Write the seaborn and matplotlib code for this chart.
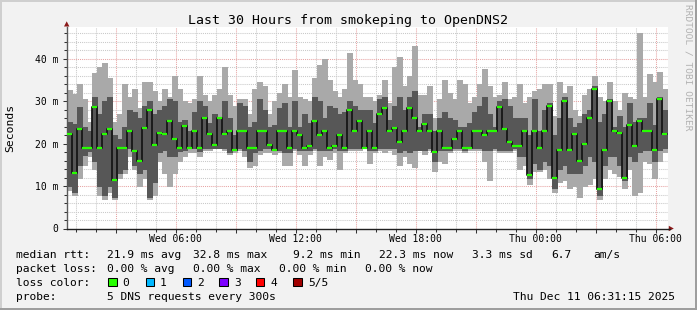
import numpy as np
import pandas as pd
import matplotlib
matplotlib.use("Agg")
import matplotlib.pyplot as plt
import seaborn as sns
from matplotlib.patches import Polygon, Rectangle
from matplotlib.lines import Line2D

# ---------------- data (ms), one value per 15-minute column ----------------
smoke_max = [
    32.6, 31.8, 34.0, 30.5, 25.0, 36.6, 38.0, 39.0, 35.5, 25.0,
    27.0, 34.0, 31.0, 33.0, 28.5, 34.5, 34.5, 32.5, 30.0, 33.0,
    31.0, 36.0, 33.0, 30.0, 29.5, 30.5, 36.0, 31.5, 30.0, 31.5,
    33.0, 38.2, 31.5, 29.0, 30.5, 30.5, 27.0, 33.0, 34.5, 33.5,
    27.0, 30.0, 32.0, 34.0, 31.0, 37.5, 31.0, 30.5, 30.0, 35.5,
    38.5, 40.0, 35.0, 32.5, 31.0, 33.0, 41.5, 35.0, 34.0, 31.0,
    31.0, 30.0, 31.5, 35.0, 29.5, 38.0, 40.5, 33.5, 36.0, 43.0,
    31.5, 31.5, 33.5, 26.0, 30.5, 35.0, 32.0, 30.5, 35.0, 34.0,
    29.5, 31.0, 34.0, 37.5, 33.5, 31.0, 31.5, 34.5, 30.5, 31.0,
    34.0, 29.5, 31.0, 32.5, 33.0, 34.0, 34.0, 26.5, 34.5, 32.0,
    33.5, 28.0, 26.5, 31.5, 33.0, 36.0, 31.0, 30.0, 34.5, 30.0,
    28.0, 32.0, 31.0, 30.5, 46.0, 31.0, 36.5, 34.5, 37.0, 33.0]

smoke_min = [
    9.0, 8.0, 12.0, 15.0, 17.0, 14.0, 8.0, 7.0, 8.5, 7.0,
    12.0, 13.0, 17.0, 14.0, 10.0, 12.0, 7.0, 8.0, 16.0, 13.0,
    10.0, 13.0, 16.0, 17.0, 18.0, 18.0, 17.0, 18.5, 18.5, 19.0,
    19.0, 18.5, 17.5, 18.0, 18.5, 17.0, 14.5, 15.0, 17.5, 18.0,
    18.0, 17.5, 18.0, 15.0, 15.0, 18.5, 17.5, 15.0, 17.5, 18.5,
    15.0, 17.0, 16.5, 18.0, 14.0, 18.0, 18.5, 18.5, 18.5, 19.0,
    15.5, 18.0, 18.5, 18.0, 18.5, 17.5, 15.0, 17.0, 15.5, 14.5,
    18.5, 17.5, 18.5, 13.5, 16.0, 15.5, 18.0, 18.5, 18.5, 18.0,
    18.5, 18.5, 18.5, 16.0, 11.5, 18.5, 18.0, 18.0, 18.0, 18.5,
    14.0, 15.0, 10.5, 13.5, 13.5, 14.0, 12.0, 8.5, 11.0, 11.5,
    9.5, 10.0, 7.5, 10.0, 10.5, 12.0, 7.0, 12.0, 14.0, 13.0,
    12.5, 9.5, 14.0, 8.0, 8.5, 16.0, 15.5, 12.0, 16.0, 18.0]

inner_max = [
    25.0, 24.6, 28.6, 24.0, 23.0, 31.0, 27.0, 30.0, 31.0, 22.0,
    21.0, 24.0, 28.0, 27.5, 26.0, 29.0, 30.0, 27.0, 28.0, 29.0,
    30.5, 30.0, 25.0, 25.5, 23.0, 27.5, 30.0, 29.0, 25.0, 27.0,
    26.0, 30.0, 26.0, 22.0, 29.5, 29.0, 24.0, 25.0, 30.5, 28.0,
    24.0, 24.5, 28.5, 29.5, 24.0, 30.0, 24.0, 27.0, 25.0, 31.0,
    30.0, 26.0, 29.0, 28.5, 27.0, 27.5, 30.0, 29.0, 28.0, 28.0,
    28.0, 25.0, 30.5, 31.0, 25.5, 29.0, 31.0, 28.0, 31.0, 32.5,
    24.0, 27.0, 27.0, 23.0, 26.0, 27.5, 26.0, 25.5, 24.0, 24.0,
    25.0, 27.5, 29.0, 31.0, 27.0, 24.0, 30.0, 30.5, 29.0, 26.0,
    26.0, 26.0, 22.0, 30.5, 23.0, 28.0, 29.5, 22.0, 26.0, 31.0,
    26.0, 24.0, 25.0, 27.0, 28.0, 33.5, 25.0, 27.0, 30.5, 24.0,
    26.5, 24.0, 29.5, 25.0, 26.0, 26.0, 29.5, 24.5, 31.0, 28.0]

inner_min = [
    10.0, 8.6, 15.0, 17.4, 18.2, 16.0, 10.0, 8.0, 10.0, 7.5,
    13.0, 14.0, 19.0, 15.0, 13.0, 14.0, 7.5, 11.0, 18.0, 18.5,
    17.0, 17.0, 18.2, 18.5, 19.0, 19.0, 18.2, 19.0, 19.0, 19.0,
    19.0, 19.0, 18.0, 18.5, 19.0, 18.5, 16.0, 18.0, 18.5, 19.0,
    19.0, 18.5, 18.5, 18.0, 18.0, 19.0, 18.5, 18.5, 18.5, 19.0,
    18.5, 18.5, 18.5, 19.0, 18.5, 18.5, 19.0, 19.0, 19.0, 19.0,
    18.5, 18.5, 19.0, 19.0, 19.0, 19.0, 18.0, 18.5, 18.0, 18.5,
    18.5, 18.5, 19.0, 16.0, 18.5, 18.5, 18.5, 19.0, 19.0, 18.5,
    19.0, 19.0, 19.0, 18.5, 18.5, 19.0, 18.5, 18.5, 18.5, 19.0,
    17.0, 17.0, 12.0, 15.5, 14.0, 16.0, 15.0, 9.5, 14.0, 15.0,
    13.0, 13.0, 13.0, 15.0, 17.0, 16.0, 8.0, 15.0, 17.0, 17.0,
    15.0, 11.5, 17.0, 16.0, 18.0, 18.5, 18.5, 16.0, 18.5, 19.0]

median_rtt = [
    22.2, 13.0, 23.4, 19.0, 19.0, 28.6, 19.0, 22.2, 23.4, 11.5,
    19.0, 19.0, 23.0, 18.2, 16.0, 23.8, 28.0, 19.8, 22.6, 22.2,
    25.4, 21.0, 19.0, 24.2, 19.0, 23.0, 19.0, 26.0, 22.2, 19.8,
    26.0, 22.4, 23.0, 18.5, 23.0, 23.0, 19.0, 19.0, 23.0, 23.0,
    19.8, 18.5, 23.0, 23.0, 19.0, 23.0, 22.0, 19.0, 19.5, 25.4,
    22.0, 23.0, 19.0, 19.5, 22.0, 19.0, 28.0, 23.0, 25.4, 19.0,
    23.0, 19.0, 27.0, 28.5, 23.0, 23.8, 20.5, 23.0, 28.5, 26.0,
    23.0, 24.6, 23.0, 18.0, 23.0, 19.0, 19.0, 21.0, 23.0, 19.0,
    19.0, 23.0, 23.0, 22.0, 23.0, 23.0, 28.6, 23.5, 20.5, 19.5,
    19.5, 23.0, 12.6, 23.0, 19.0, 23.0, 28.8, 11.8, 18.5, 30.0,
    18.5, 22.2, 16.0, 20.0, 26.0, 32.8, 9.2, 18.5, 30.0, 23.0,
    22.5, 12.0, 24.5, 19.5, 25.4, 23.0, 23.0, 18.5, 30.5, 22.3]

x_tick_hours = [6, 12, 18, 24, 30]
x_tick_labels = ['Wed 06:00', 'Wed 12:00', 'Wed 18:00', 'Thu 00:00', 'Thu 06:00']
y_tick_values = [0, 10, 20, 30, 40]
y_tick_labels = ['0', '10 m', '20 m', '30 m', '40 m']
loss_labels = ['0', '1', '2', '3', '4', '5/5']
loss_colors = ['#26ff00', '#00b8ff', '#0059ff', '#7e00ff', '#ff0000', '#a10000']

# ---------------- figure ----------------
sns.set_theme(style="white")
plt.rcParams['font.family'] = ['DejaVu Sans Mono', 'DejaVu Sans']

W, H = 697, 310
fig = plt.figure(figsize=(W / 100, H / 100), dpi=100, facecolor='#f2f2f2')


def fx(px):
    return px / W


def fy(py):
    return 1 - py / H


AX_L, AX_R, AX_T, AX_B = 66.7, 668.0, 26.7, 228.5
ax = fig.add_axes([fx(AX_L), fy(AX_B), (AX_R - AX_L) / W, (AX_B - AX_T) / H])
ax.set_facecolor('white')

T0, STEP = 0.55, 0.25
n = len(median_rtt)
left = T0 + STEP * np.arange(n)
smax, smin = np.array(smoke_max), np.array(smoke_min)
imax, imin = np.array(inner_max), np.array(inner_min)
med = np.array(median_rtt)

ax.bar(left, smax - smin, bottom=smin, width=STEP, align='edge',
       color='#a9a9a9', edgecolor='#a9a9a9', linewidth=0.6, antialiased=False, zorder=2)
ax.bar(left, imax - imin, bottom=imin, width=STEP, align='edge',
       color='#575757', edgecolor='#575757', linewidth=0.6, antialiased=False, zorder=3)

df = pd.DataFrame({'t': np.append(left, left[-1] + STEP),
                   'm': np.append(med, med[-1])})
sns.lineplot(data=df, x='t', y='m', drawstyle='steps-post', color='#161616',
             linewidth=1.3, ax=ax, zorder=4)
ax.hlines(med, left, left + STEP, color='#26ff00', linewidth=1.6, zorder=5)

ax.set_xlim(T0, T0 + (AX_R - AX_L) / 20.0)
ax.set_ylim(0, (AX_B - AX_T) / 4.24)

major_hours = [3, 6, 9, 12, 15, 18, 21, 24, 27, 30]
ax.set_xticks(major_hours)
ax.set_xticklabels([x_tick_labels[x_tick_hours.index(h)] if h in x_tick_hours else ''
                    for h in major_hours])
ax.set_xticks(np.arange(1, 31), minor=True)
ax.set_yticks(y_tick_values)
ax.set_yticklabels(y_tick_labels)
ax.set_yticks(np.arange(2, 48, 2), minor=True)

ax.grid(which='major', color='#e7a4a4', linestyle=(0, (1, 1)), linewidth=0.75, zorder=0)
ax.grid(which='minor', color='#c9c9c9', linestyle=(0, (1, 1)), linewidth=0.75, zorder=0)
ax.set_axisbelow(True)

ax.tick_params(axis='both', which='major', length=3, width=0.75, color='#333333',
               direction='out', labelsize=7, labelcolor='black')
ax.tick_params(axis='both', which='minor', length=2, width=0.75, color='#333333',
               direction='out')
ax.tick_params(axis='x', which='major', pad=1.2)
ax.tick_params(axis='y', which='major', pad=3.0)
ax.xaxis.set_tick_params(bottom=True, which='both')
ax.yaxis.set_tick_params(left=True, which='both')
ax.set_xlabel('')
ax.set_ylabel('')

for s in ['top', 'right']:
    ax.spines[s].set_visible(False)
ax.spines['left'].set_color('#5a5a5a')
ax.spines['left'].set_linewidth(1.0)
ax.spines['bottom'].set_color('#202020')
ax.spines['bottom'].set_linewidth(1.0)

# axis extension + arrows
fig.add_artist(Line2D([fx(AX_R), fx(670)], [fy(AX_B), fy(AX_B)], color='#202020', lw=1.0))
fig.add_artist(Polygon([(fx(64.0), fy(26.5)), (fx(69.4), fy(26.5)), (fx(66.7), fy(21.3))],
                       closed=True, color='#8b1a1a', lw=0))
fig.add_artist(Polygon([(fx(668.8), fy(225.8)), (fx(668.8), fy(231.2)), (fx(673.8), fy(228.5))],
                       closed=True, color='#8b1a1a', lw=0))

# title and labels
fig.text(fx(348), fy(24), 'Last 30 Hours from smokeping to OpenDNS2',
         ha='center', va='baseline', fontsize=9.5, color='black')
fig.text(fx(10), fy(128), 'Seconds', rotation=90, ha='center', va='center',
         fontsize=8.2, color='black')
fig.text(fx(688), fy(4), 'RRDTOOL / TOBI OETIKER', rotation=-90, ha='center',
         va='top', fontsize=6.8, color='#b2b2b2')

LF = 8.1
rows = [
    (257.7, [(16, 'median rtt:'), (107.3, '21.9 ms avg'), (193.3, '32.8 ms max'),
             (293.3, '9.2 ms min'), (379.3, '22.3 ms now'), (472.3, '3.3 ms sd'),
             (551, '6.7'), (593.3, 'am/s')]),
    (271.7, [(16, 'packet loss:'), (107.3, '0.00 % avg'), (193.3, '0.00 % max'),
             (279.3, '0.00 % min'), (365, '0.00 % now')]),
    (286.0, [(16, 'loss color:')]),
    (300.0, [(16, 'probe:'), (107.3, '5 DNS requests every 300s'),
             (513.3, 'Thu Dec 11 06:31:15 2025')]),
]
for yb, segs in rows:
    for xp, txt in segs:
        fig.text(fx(xp), fy(yb), txt, ha='left', va='baseline', fontsize=LF, color='black')

box_x = [108.3, 145.7, 182.7, 219.3, 256.0, 293.3]
lab_x = [122.7, 160.0, 197.3, 234.3, 270.7, 308.3]
for bx, lx, col, lab in zip(box_x, lab_x, loss_colors, loss_labels):
    fig.add_artist(Rectangle((fx(bx), fy(286.0)), 8.3 / W, 8.3 / H, facecolor=col,
                             edgecolor='black', lw=0.75))
    fig.text(fx(lx), fy(286.0), lab, ha='left', va='baseline', fontsize=LF, color='black')

# frame shading
fig.add_artist(Rectangle((0, fy(1.5)), 1, 1.5 / H, facecolor='#cfcfcf', lw=0))
fig.add_artist(Rectangle((0, 0), 1.5 / W, 1, facecolor='#cfcfcf', lw=0))
fig.add_artist(Rectangle((0, 0), 1, 2.2 / H, facecolor='#9e9e9e', lw=0))
fig.add_artist(Rectangle((1 - 2.2 / W, 0), 2.2 / W, 1, facecolor='#9e9e9e', lw=0))

fig.savefig('out.png', dpi=100, facecolor=fig.get_facecolor())
